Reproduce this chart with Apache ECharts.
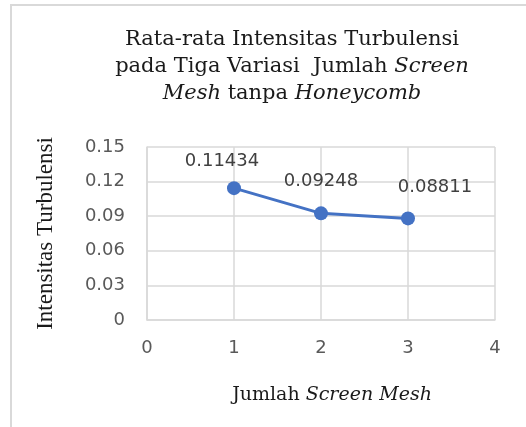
<!DOCTYPE html>
<html>
<head>
<meta charset="utf-8">
<script src="https://cdn.jsdelivr.net/npm/echarts@6/dist/echarts.min.js"></script>
<style>
  html, body { margin: 0; padding: 0; background: #fff; }
  #frame { position: absolute; left: 10px; top: 4px; width: 516px; height: 423px;
           border-top: 2px solid #d9d9d9; border-left: 2px solid #d9d9d9; box-sizing: border-box; }
  #chart { position: absolute; left: 0; top: 0; width: 526px; height: 427px; }
</style>
</head>
<body>
<div id="frame"></div>
<div id="chart"></div>
<script>
// screen mesh count vs mean turbulence intensity
const screenCount = [1, 2, 3];
const intensity = [0.11434, 0.09248, 0.08811];
const xTicks = [0, 1, 2, 3, 4];
const yTicks = [0, 0.03, 0.06, 0.09, 0.12, 0.15];

const chart = echarts.init(document.getElementById("chart"));

const labelShift = [[-12, 0], [0, -5], [27, -4]];

chart.setOption({
  animation: false,
  title: {
    text: "Rata-rata Intensitas Turbulensi\npada Tiga Variasi  Jumlah {i|Screen}\n{i|Mesh} tanpa {i|Honeycomb}",
    left: 287,
    top: 21,
    textAlign: "center",
    textStyle: {
      fontFamily: "DejaVu Serif",
      fontSize: 21,
      fontWeight: "normal",
      color: "#1a1a1a",
      lineHeight: 27,
      rich: {
        i: { fontFamily: "DejaVu Serif", fontSize: 21, fontStyle: "italic", color: "#1a1a1a", lineHeight: 27 }
      }
    }
  },
  grid: { left: 147, right: 31, top: 147, bottom: 107, containLabel: false },
  xAxis: {
    type: "value",
    min: xTicks[0],
    max: xTicks[xTicks.length - 1],
    interval: 1,
    name: "Jumlah {i|Screen Mesh}",
    nameLocation: "middle",
    nameGap: 66,
    nameTextStyle: {
      fontFamily: "DejaVu Serif",
      fontSize: 19,
      color: "#1a1a1a",
      padding: [0, 0, 0, 22],
      rich: { i: { fontFamily: "DejaVu Serif", fontSize: 19, fontStyle: "italic", color: "#1a1a1a" } }
    },
    axisLine: { show: true, lineStyle: { color: "#d9d9d9", width: 1.5 } },
    axisTick: { show: false },
    splitLine: { show: true, lineStyle: { color: "#d9d9d9", width: 1.5 } },
    axisLabel: { margin: 19, fontFamily: "DejaVu Sans", fontSize: 18, color: "#595959" }
  },
  yAxis: {
    type: "value",
    min: yTicks[0],
    max: yTicks[yTicks.length - 1],
    interval: 0.03,
    name: "Intensitas Turbulensi",
    nameLocation: "middle",
    nameGap: 90,
    nameTextStyle: { fontFamily: "Liberation Serif", fontSize: 23, color: "#1a1a1a" },
    axisLine: { show: true, lineStyle: { color: "#d9d9d9", width: 1.5 } },
    axisTick: { show: false },
    splitLine: { show: true, lineStyle: { color: "#d9d9d9", width: 1.5 } },
    axisLabel: {
      margin: 22,
      fontFamily: "DejaVu Sans",
      fontSize: 18,
      color: "#595959",
      formatter: v => String(+v.toFixed(2))
    }
  },
  series: [{
    type: "line",
    data: screenCount.map((x, i) => ({
      value: [x, intensity[i]],
      label: { offset: labelShift[i] }
    })),
    symbol: "circle",
    symbolSize: 14,
    lineStyle: { color: "#4472c4", width: 3 },
    itemStyle: { color: "#4472c4" },
    label: {
      show: true,
      position: "top",
      distance: 11,
      fontFamily: "DejaVu Sans",
      fontSize: 18,
      color: "#404040",
      formatter: p => p.value[1].toFixed(5)
    }
  }]
});
</script>
</body>
</html>
